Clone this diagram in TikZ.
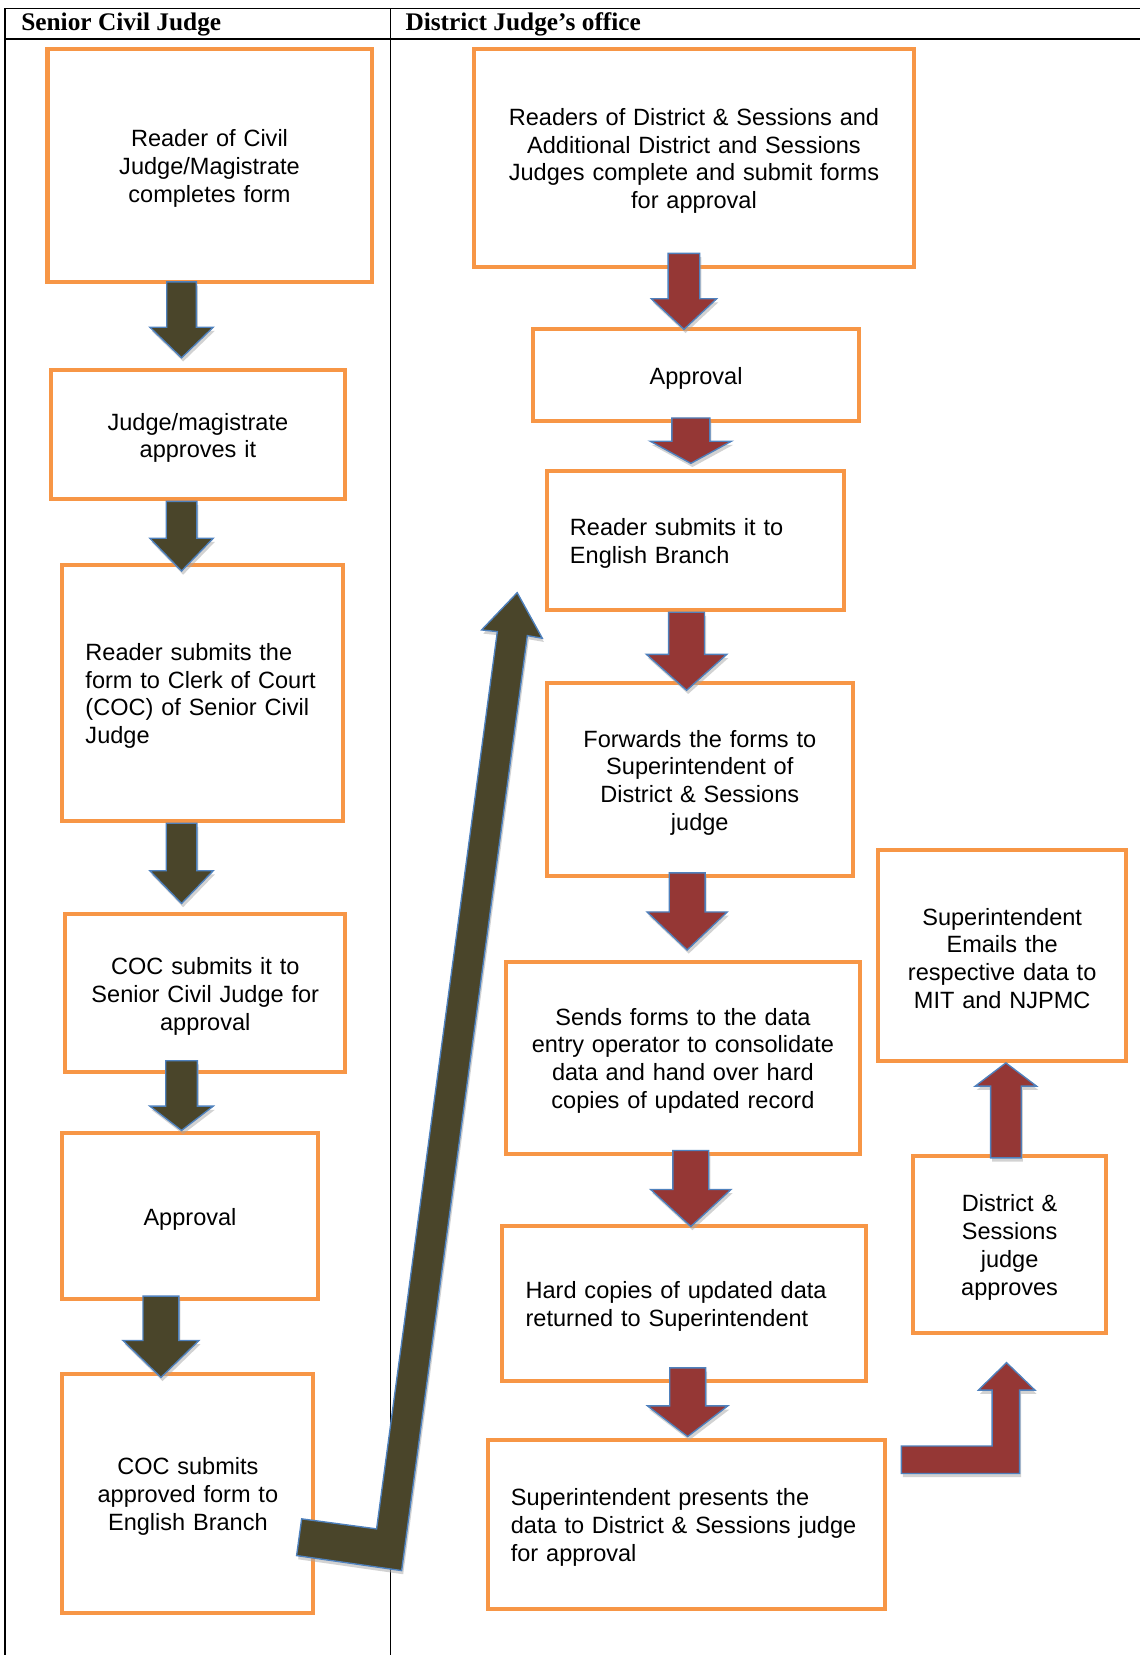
\documentclass[tikz,border=0pt]{standalone}
\usepackage{fontspec}
\setmainfont{Liberation Sans}
\newfontfamily\headfont{Liberation Serif}

\definecolor{boxorange}{HTML}{F79646}
\definecolor{olivefill}{HTML}{4A452A}
\definecolor{redfill}{HTML}{953735}
\definecolor{edgeblue}{HTML}{4F81BD}

% Vertical block arrow: #1 fill, #2 centre x, #3 tail y, #4 head base y,
% #5 tip y, #6 half shaft width, #7 half head width
\newcommand\blockarrow[7]{%
  \path[arrowshadow, shift={(1.5,3.5)}]
    ({#2-#6},#3) -- ({#2+#6},#3) -- ({#2+#6},#4) -- ({#2+#7},#4) -- (#2,#5)
    -- ({#2-#7},#4) -- ({#2-#6},#4) -- cycle;
  \path[arrowbody, fill=#1]
    ({#2-#6},#3) -- ({#2+#6},#3) -- ({#2+#6},#4) -- ({#2+#7},#4) -- (#2,#5)
    -- ({#2-#7},#4) -- ({#2-#6},#4) -- cycle;
}

\begin{document}
\begin{tikzpicture}[x=1pt, y=-1pt,
  frame/.style={draw=black, line width=1.6pt},
  heading/.style={anchor=base west, inner sep=0pt, font=\headfont\bfseries\fontsize{24}{28}\selectfont},
  stage/.style={draw=boxorange, line width=3.8pt, fill=white, inner ysep=2pt,
    font=\fontsize{22.3}{26.3}\selectfont, execute at begin node={\rule{0pt}{22pt}}},
  ctr/.style={stage, align=center, inner xsep=5pt},
  lft/.style={stage, align=left, inner xsep=22pt},
  arrowbody/.style={draw=edgeblue, line width=1.3pt, line join=miter},
  arrowshadow/.style={fill=black!35, opacity=0.5}]

\useasboundingbox (0,0) rectangle (1080,1568);

% table frame
\draw[frame] (5,8) -- (1080,8);
\draw[frame] (5,37) -- (1080,37);
\draw[frame] (5,8) -- (5,1568);
\draw[frame] (370,8) -- (370,1568);
\node[heading] (hleft) at (20,29) {Senior Civil Judge};
\node[heading] (hright) at (384,29) {District Judge’s office};

% Senior Civil Judge column
\node[ctr, minimum width=307, minimum height=221, text width=297] (b1) at (198.5,156.5)
  {Reader of Civil\\Judge/Magistrate\\completes form};
\node[ctr, minimum width=279, minimum height=122, text width=269] (b2) at (187.5,412)
  {Judge/magistrate\\approves it};
\node[lft, minimum width=266, minimum height=243, text width=222] (b3) at (192,656.5)
  {Reader submits the\\form to Clerk of Court\\(COC) of Senior Civil\\Judge};
\node[ctr, minimum width=265, minimum height=150, text width=255] (b4) at (194.5,941)
  {COC submits it to\\Senior Civil Judge for\\approval};
\node[ctr, minimum width=242, minimum height=158, text width=232] (b5) at (180,1152)
  {Approval};
\node[ctr, minimum width=238, minimum height=226, text width=228] (b6) at (178,1415)
  {COC submits\\approved form to\\English Branch};

% District Judge's office column
\node[ctr, minimum width=417, minimum height=207, text width=407] (r1) at (657.5,149.5)
  {Readers of District \& Sessions and\\Additional District and Sessions\\Judges complete and submit forms\\for approval};
\node[ctr, minimum width=309, minimum height=87, text width=299] (r2) at (659.5,355.5)
  {Approval};
\node[lft, minimum width=282, minimum height=132, text width=238] (r3) at (659,512)
  {Reader submits it to\\English Branch};
\node[ctr, minimum width=290, minimum height=183, text width=280] (r4) at (663,738.5)
  {Forwards the forms to\\Superintendent of\\District \& Sessions\\judge};
\node[ctr, minimum width=336, minimum height=182, text width=326] (r5) at (647,1002)
  {Sends forms to the data\\entry operator to consolidate\\data and hand over hard\\copies of updated record};
\node[lft, minimum width=344, minimum height=146, text width=300] (r6) at (648,1235)
  {Hard copies of updated data\\returned to Superintendent};
\node[lft, minimum width=376, minimum height=160, text width=332] (r7) at (650,1444)
  {Superintendent presents the\\data to District \& Sessions judge\\for approval};
\node[ctr, minimum width=235, minimum height=200, text width=225] (r8) at (949.5,905)
  {Superintendent\\Emails the\\respective data to\\MIT and NJPMC};
\node[ctr, minimum width=183, minimum height=168, text width=173] (r9) at (956.5,1179)
  {District \&\\Sessions\\judge\\approves};

% flow arrows, Senior Civil Judge
\blockarrow{olivefill}{172}{267}{310}{339}{14}{30}
\blockarrow{olivefill}{172}{475}{510}{541}{14.5}{30}
\blockarrow{olivefill}{172}{780}{825}{856}{14.5}{30}
\blockarrow{olivefill}{172}{1005}{1048}{1071}{15}{30}
\blockarrow{olivefill}{152.5}{1228}{1270}{1305}{17}{36}

% flow arrows, District Judge's office
\blockarrow{redfill}{648}{240}{283}{312}{15}{31}
\blockarrow{redfill}{654.5}{396}{418}{439}{18}{38.5}
\blockarrow{redfill}{650.5}{580}{620}{654}{17}{38}
\blockarrow{redfill}{651}{827}{864}{900}{17}{38}
\blockarrow{redfill}{654.5}{1090}{1127}{1162}{17}{38}
\blockarrow{redfill}{651.5}{1296}{1332}{1361}{17}{38}
\blockarrow{redfill}{953}{1097}{1029}{1007}{14.5}{29}

% bent arrow from the presentation step up to the approval
\path[arrowshadow, shift={(1.5,3.5)}] (854,1370) -- (940,1370) -- (940,1317) -- (927,1317)
  -- (953.6,1291) -- (980.5,1317) -- (966,1317) -- (966,1396) -- (854,1396) -- cycle;
\path[arrowbody, fill=redfill] (854,1370) -- (940,1370) -- (940,1317) -- (927,1317)
  -- (953.6,1291) -- (980.5,1317) -- (966,1317) -- (966,1396) -- (854,1396) -- cycle;

% long arrow from the Senior Civil Judge column to the English Branch
\path[arrowshadow, shift={(1.5,3.5)}] (490,561.5) -- (513.8,604.7) -- (499.6,602.2)
  -- (380.5,1488) -- (281,1473.8) -- (285.8,1439) -- (356.8,1448.5)
  -- (471.2,598.4) -- (456.3,596.8) -- cycle;
\path[arrowbody, fill=olivefill] (490,561.5) -- (513.8,604.7) -- (499.6,602.2)
  -- (380.5,1488) -- (281,1473.8) -- (285.8,1439) -- (356.8,1448.5)
  -- (471.2,598.4) -- (456.3,596.8) -- cycle;

\end{tikzpicture}
\end{document}
